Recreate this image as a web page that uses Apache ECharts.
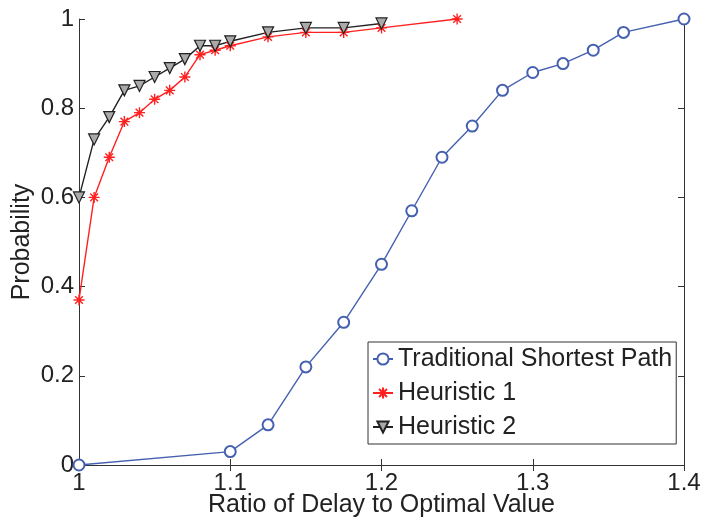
<!DOCTYPE html>
<html>
<head>
<meta charset="utf-8">
<script src="https://cdn.jsdelivr.net/npm/echarts@6/dist/echarts.min.js"></script>
<style>
  html, body { margin: 0; padding: 0; background: #fff; }
  #chart { width: 703px; height: 518px; }
</style>
</head>
<body>
<div id="chart"></div>
<script>
// data
var tradX = [1.0, 1.1, 1.125, 1.15, 1.175, 1.2, 1.22, 1.24, 1.26, 1.28, 1.3, 1.32, 1.34, 1.36, 1.4];
var tradY = [0.0, 0.03, 0.09, 0.22, 0.32, 0.45, 0.57, 0.69, 0.76, 0.84, 0.88, 0.90, 0.93, 0.97, 1.0];

var h1X = [1.0, 1.01, 1.02, 1.03, 1.04, 1.05, 1.06, 1.07, 1.08, 1.09, 1.1, 1.125, 1.15, 1.175, 1.2, 1.25];
var h1Y = [0.37, 0.60, 0.69, 0.77, 0.79, 0.82, 0.84, 0.87, 0.92, 0.93, 0.94, 0.96, 0.97, 0.97, 0.98, 1.0];

var h2X = [1.0, 1.01, 1.02, 1.03, 1.04, 1.05, 1.06, 1.07, 1.08, 1.09, 1.1, 1.125, 1.15, 1.175, 1.2];
var h2Y = [0.60, 0.73, 0.78, 0.84, 0.85, 0.87, 0.89, 0.91, 0.94, 0.94, 0.95, 0.97, 0.98, 0.98, 0.99];

var seriesNames = ['Traditional Shortest Path', 'Heuristic 1', 'Heuristic 2'];

function pairs(xs, ys) {
    return xs.map(function (x, i) { return [x, ys[i]]; });
}

var font = 'Liberation Sans';
var star = 'path://M5 0L5 10M0 5L10 5M1.5 1.5L8.5 8.5M1.5 8.5L8.5 1.5';

var chart = echarts.init(document.getElementById('chart'));

var axisLine = { show: true, lineStyle: { color: '#333', width: 1 } };
var tick = { show: true, inside: true, length: 6, lineStyle: { color: '#333' } };

chart.setOption({
    animation: false,
    backgroundColor: '#fff',
    grid: { left: 79, right: 19, top: 19, bottom: 53, show: false, outerBoundsMode: 'none', containLabel: false },
    xAxis: [{
        type: 'value', min: 1, max: 1.4, interval: 0.1,
        axisLine: axisLine, axisTick: tick, splitLine: { show: false },
        axisLabel: { color: '#222', fontFamily: font, fontSize: 24, margin: 6,
            formatter: function (v) { return +v.toFixed(1) + ''; } },
        name: 'Ratio of Delay to Optimal Value', nameLocation: 'middle', nameGap: 28,
        nameMoveOverlap: false,
        nameTextStyle: { color: '#222', fontFamily: font, fontSize: 25 }
    }, {
        type: 'value', min: 1, max: 1.4, interval: 0.1, position: 'top',
        axisLine: axisLine, axisTick: tick, axisLabel: { show: false }, splitLine: { show: false }
    }],
    yAxis: [{
        type: 'value', min: 0, max: 1, interval: 0.2,
        axisLine: axisLine, axisTick: tick, splitLine: { show: false },
        axisLabel: { color: '#222', fontFamily: font, fontSize: 24, margin: 5 },
        name: 'Probability', nameLocation: 'middle', nameGap: 44,
        nameMoveOverlap: false,
        nameTextStyle: { color: '#222', fontFamily: font, fontSize: 25 }
    }, {
        type: 'value', min: 0, max: 1, interval: 0.2, position: 'right',
        axisLine: axisLine, axisTick: tick, axisLabel: { show: false }, splitLine: { show: false }
    }],
    legend: {
        orient: 'vertical', left: 368, top: 342,
        padding: [3, 4, 3, 4], itemGap: 6, itemWidth: 20, itemHeight: 14,
        backgroundColor: '#fff', borderColor: '#333', borderWidth: 1,
        textStyle: { color: '#222', fontFamily: font, fontSize: 25, lineHeight: 28 },
        data: seriesNames
    },
    series: [{
        name: seriesNames[0], type: 'line', data: pairs(tradX, tradY),
        symbol: 'emptyCircle', symbolSize: 11,
        lineStyle: { color: '#4560b0', width: 1.4 },
        itemStyle: { color: '#4560b0', borderWidth: 1.4 }
    }, {
        name: seriesNames[1], type: 'line', data: pairs(h1X, h1Y),
        symbol: star, symbolSize: 11,
        lineStyle: { color: '#ff2020', width: 1.4 },
        itemStyle: { color: '#ff2020', borderColor: '#ff2020', borderWidth: 1.4 }
    }, {
        name: seriesNames[2], type: 'line', data: pairs(h2X, h2Y),
        symbol: 'triangle', symbolRotate: 180, symbolSize: 11,
        lineStyle: { color: '#222', width: 1.4 },
        itemStyle: { color: '#aaa', borderColor: '#222', borderWidth: 1.2 }
    }]
});
</script>
</body>
</html>
